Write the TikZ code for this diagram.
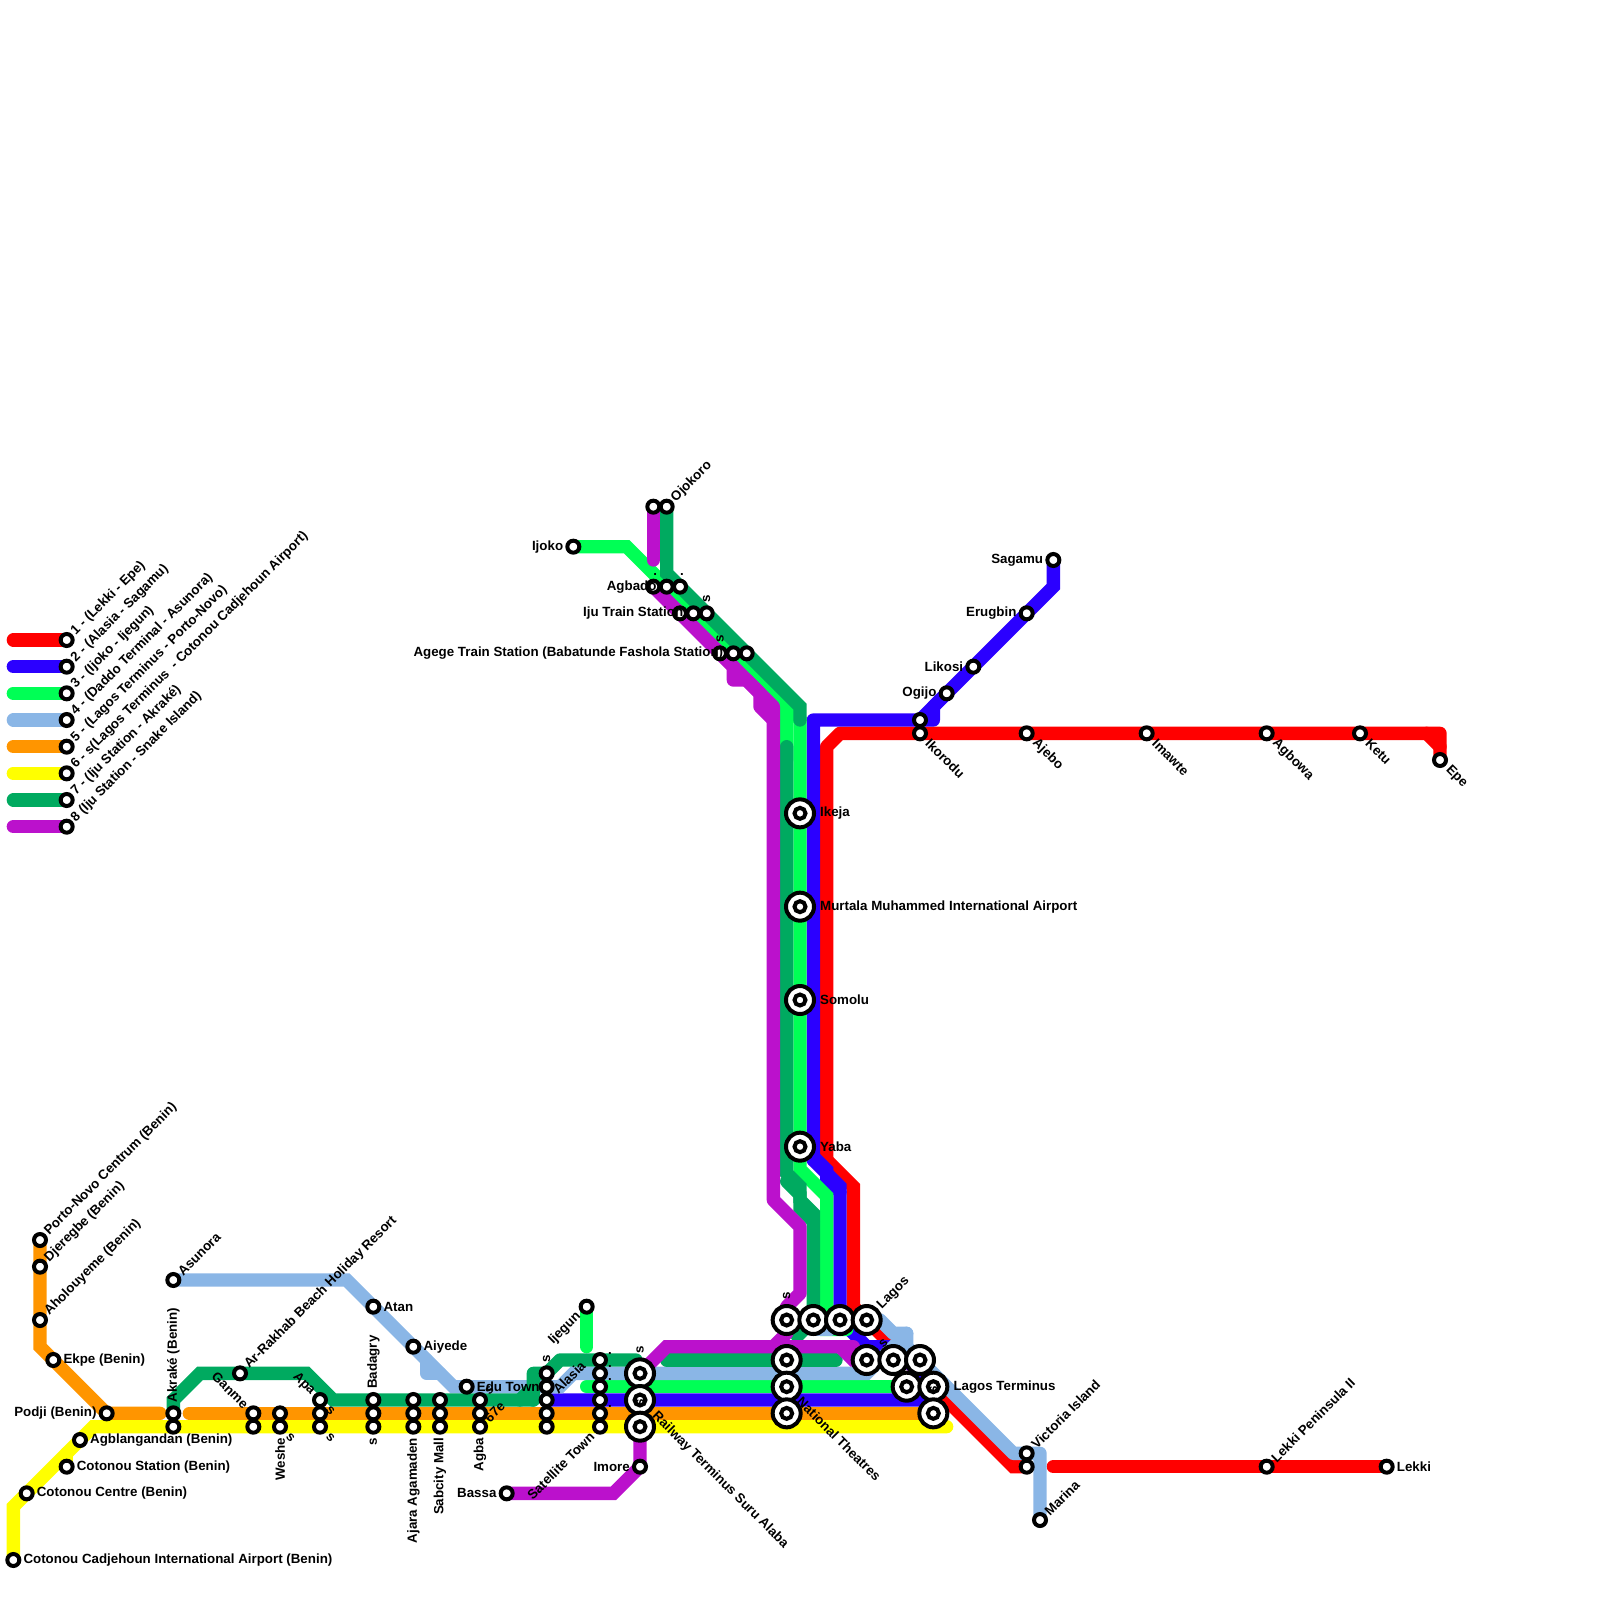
\documentclass[tikz,border=0pt]{standalone}
\usepackage{fontspec}
\setmainfont{Liberation Sans}
\pgfdeclarelayer{lines}
\pgfsetlayers{lines,main}
\definecolor{lred}{HTML}{FF0000}
\definecolor{lblue}{HTML}{2B00FF}
\definecolor{lgreen}{HTML}{00FF55}
\definecolor{lsky}{HTML}{8AB6E6}
\definecolor{lorange}{HTML}{FF9500}
\definecolor{lyellow}{HTML}{FFFF00}
\definecolor{ldark}{HTML}{00AA60}
\definecolor{lpurple}{HTML}{BB11CC}
\tikzset{
  metro/.style={line width=13.333pt,line cap=round,line join=miter,miter limit=10},
  soft/.style={line join=round},
  stn/.style={circle,draw=black,fill=white,line width=4pt,minimum size=12pt,inner sep=0pt},
  hub/.style={circle,draw=black,fill=white,line width=4pt,minimum size=28pt,inner sep=0pt},
  hubcore/.style={circle,draw=black,fill=white,line width=4pt,minimum size=11pt,inner sep=0pt},
  lbl/.style={font=\bfseries\fontsize{13.33}{15}\selectfont,inner sep=0pt,text=black},
}
\newcount\lbc
\newcommand\lb[4]{\global\advance\lbc by 1
  \node[lbl,#2] (t\the\lbc) at ([shift={(#3)}]#1.center) {#4};}
\newcommand\UR[3][9.5]{\lb{#2}{rotate=45,anchor=west}{45:#1pt}{#3}}
\newcommand\DR[3][11]{\lb{#2}{rotate=-45,anchor=west}{-45:#1pt}{#3}}
\newcommand\UL[3][10]{\lb{#2}{rotate=-45,anchor=east}{135:#1pt}{#3}}
\newcommand\DL[3][11]{\lb{#2}{rotate=45,anchor=east}{225:#1pt}{#3}}
\newcommand\RT[3][10]{\lb{#2}{anchor=west}{0:#1pt}{#3}}
\newcommand\LF[3][10]{\lb{#2}{anchor=east}{180:#1pt}{#3}}
\newcommand\UP[3][11]{\lb{#2}{rotate=90,anchor=west}{90:#1pt}{#3}}
\newcommand\DN[3][11]{\lb{#2}{rotate=90,anchor=east}{270:#1pt}{#3}}
\newcommand\DT[1]{\lb{#1}{}{10pt,7pt}{.}}
\begin{document}
\begin{tikzpicture}[x=13.3333pt,y=-13.3333pt]
\useasboundingbox (0,0) rectangle (120,120);
% stations
\foreach \a/\b in {5/48,5/50,5/52,5/54,5/56,5/58,5/60,5/62,
  3/93,3/95,3/99,4/102,8/106,6/108,5/110,2/112,1/117,
  13/96,13/106,13/107,18/103,19/106,19/107,21/106,21/107,24/105,24/106,24/107,
  28/98,31/101,35/104,28/105,28/106,28/107,31/105,31/106,31/107,33/105,33/106,33/107,
  36/105,36/106,36/107,38/112,44/98,
  41/103,41/104,41/105,41/106,41/107,45/102,45/103,45/104,45/105,45/106,45/107,48/110,
  49/38,50/38,43/41,49/44,50/44,51/44,51/46,52/46,53/46,54/49,55/49,56/49,
  69/54,69/55,71/52,73/50,77/46,79/42,77/55,86/55,95/55,102/55,108/57,
  77/109,77/110,78/114,95/110,104/110}
  {\node[stn] (s\a-\b) at (\a,\b) {};}
\foreach \a/\b in {60/61,60/68,60/75,60/86,59/99,61/99,63/99,65/99,65/102,67/102,69/102,
  68/104,70/104,70/106,59/102,59/104,59/106,48/103,48/105,48/107}
  {\node[hub] (s\a-\b) at (\a,\b) {};
   \node[hubcore] (c\a-\b) at (\a,\b) {};}
\coordinate (e1) at (1,48);\coordinate (e2) at (1,50);\coordinate (e3) at (1,52);\coordinate (e4) at (1,54);
\coordinate (e5) at (1,56);\coordinate (e6) at (1,58);\coordinate (e7) at (1,60);\coordinate (e8) at (1,62);
\begin{pgfonlayer}{lines}
% red
\draw[metro,lred] (e1)--(s5-48.center);
\draw[metro,lred,soft] (62,87)--(62,56)--(63,55)--(108,55)--(s108-57.center);
\draw[metro,lred] (107,55)--(108,56);
\draw[metro,lred] (62,87)--(64,89)--(64,98)--(s65-99.center)--(76,110)--(s77-110.center);
\draw[metro,lred] (79,110)--(s104-110.center);
% blue
\draw[metro,lblue] (e2)--(s5-50.center);
\draw[metro,lblue,soft] (61,87)--(61,54)--(s69-54.center)--(70,54)--(70,53)--(71,52);
\draw[metro,lblue] (s69-54.center)--(s71-52.center)--(79,44)--(s79-42.center);
\draw[metro,lblue] (61,87)--(63,89)--(s63-99.center)--(65,101)--(67,101)--(s70-104.center);
\draw[metro,lblue] (61,86.75)--(62,87.75)--(62,88.4)--(63,89.4);
\draw[metro,lblue] (41,105)--(69,105)--(s70-104.center);
% green
\draw[metro,lgreen] (e3)--(s5-52.center);
\draw[metro,lgreen] (s43-41.center)--(47,41)--(59,53)--(59,57);
\draw[metro,lgreen] (59,53)--(60,54)--(60,87.7)--(62,89.7)--(62,99.7)--(63.5,99.7);
\draw[metro,lgreen] (s44-98.center)--(44,101);
\draw[metro,lgreen] (44,104)--(s68-104.center);
% sky
\draw[metro,lsky] (e4)--(s5-54.center);
\draw[metro,lsky] (s13-96.center)--(26,96)--(34,104)--(42,104)--(43,103)--(65,103)--(68,100);
\draw[metro,lsky,soft] (32,102)--(32,103)--(33,103);
\draw[metro,lsky,soft] (s65-99.center)--(66,99)--(67,100)--(68,100)--(68,101)--(76,109)--(78,109)--(s78-114.center);
\draw[metro,lsky] (61.2,99.7)--(62.3,99.7);
% orange
\draw[metro,lorange] (e5)--(s5-56.center);
\draw[metro,lorange] (s3-93.center)--(3,101)--(s8-106.center)--(12,106);
\draw[metro,lorange] (14.2,106)--(s70-106.center);
% yellow
\draw[metro,lyellow] (e6)--(s5-58.center);
\draw[metro,lyellow] (s1-117.center)--(1,113)--(7,107)--(71,107);
\draw[metro,lyellow] (5,109)--(s5-110.center);
% dark green
\draw[metro,ldark] (e7)--(s5-60.center);
\draw[metro,ldark] (s13-106.center)--(13,105)--(15,103)--(23,103)--(25,105)--(40,105);
\draw[metro,ldark,soft] (40,105)--(40,103)--(41,103)--(42,102)--(47.7,102);
\draw[metro,ldark] (39,105)--(40,104);
\draw[metro,ldark] (50,102)--(62.7,102);
\draw[metro,ldark] (s50-38.center)--(50,43)--(60,53)--(60,54);
\draw[metro,ldark] (59,56)--(59,88)--(60,89)--(60,90)--(61,91)--(61,99)--(59.8,100.2);
\draw[metro,ldark] (59,88.6)--(60,89.6)--(60,90.6)--(61,91.6);
% purple
\draw[metro,lpurple] (e8)--(s5-62.center);
\draw[metro,lpurple] (s49-38.center)--(49,42);
\draw[metro,lpurple] (s38-112.center)--(46,112)--(48,110)--(48,103)--(50,101)--(64,101);
\draw[metro,lpurple] (63,101)--(64,102)--(s65-102.center);
\draw[metro,lpurple,soft] (s49-44.center)--(58,53)--(58,90)--(60,92)--(60,97)--(59,98)--(59,100)--(58,101);
\draw[metro,lpurple,soft] (54,49)--(55,50)--(55,51)--(56,51)--(57,52)--(57,53)--(58,54);
\end{pgfonlayer}
% legend labels
\UR{s5-48}{1 - (Lekki - Epe)}
\UR{s5-50}{2 - (Alasia - Sagamu)}
\UR{s5-52}{3 - (Ijoko - Ijegun)}
\UR{s5-54}{4 - (Daddo Terminal - Asunora)}
\UR{s5-56}{5 - (Lagos Terminus - Porto-Novo)}
\UR{s5-58}{6 - s(Lagos Terminus\ \ - Cotonou Cadjehoun Airport)}
\UR{s5-60}{7 - (Iju Station - Akraké)}
\UR{s5-62}{8 (Iju Station - Snake Island)}
% west
\UR{s3-93}{Porto-Novo Centrum (Benin)}
\UR{s3-95}{Djeregbe (Benin)}
\UR{s3-99}{Aholouyeme (Benin)}
\RT{s4-102}{Ekpe (Benin)}
\LF{s8-106}{Podji (Benin)}
\RT{s6-108}{Agblangandan (Benin)}
\RT{s5-110}{Cotonou Station (Benin)}
\RT{s2-112}{Cotonou Centre (Benin)}
\RT{s1-117}{Cotonou Cadjehoun International Airport (Benin)}
\UR{s13-96}{Asunora}
\UP{s13-106}{Akraké (Benin)}
\UR{s18-103}{Ar-Rakhab Beach Holiday Resort}
\UL{s19-106}{Ganme}
\DN{s21-107}{Weshe}
\DR{s21-107}{s}
\UL{s24-105}{Apa}
\DR{s24-105}{s}
\DR{s24-107}{s}
% centre-south
\RT{s28-98}{Atan}
\RT{s31-101}{Aiyede}
\RT{s35-104}{Edu Town}
\UP{s28-105}{Badagry}
\DN{s28-107}{s}
\DN{s31-107}{Ajara Agamaden}
\DN{s33-107}{Sabcity Mall}
\DN{s36-107}{Agba}
\UR{s36-107}{67e}
\UR{s36-105}{s}
\LF{s38-112}{Bassa}
\DL{s45-107}{Satellite Town}
\DL{s44-98}{Ijegun}
\UR[12]{s41-105}{Alasia}
\UP{s41-103}{s}
\DT{s45-102}\DT{s45-103}\DT{s45-104}\DT{s45-106}
\UP[20]{s48-103}{s}
\UP[20]{s48-107}{s}
\DR[20]{s48-105}{Railway Terminus Suru Alaba}
\LF{s48-110}{Imore}
% north
\UR{s50-38}{Ojokoro}
\LF{s43-41}{Ijoko}
\LF{s50-44}{Agbado}
\LF{s52-46}{Iju Train Station}
\LF{s55-49}{Agege Train Station (Babatunde Fashola Station)}
\UP{s53-46}{s}
\UP{s54-49}{s}
\lb{s49-44}{}{2pt,12pt}{.}
\lb{s51-44}{}{2pt,12pt}{.}
% trunk
\RT[20]{s60-61}{Ikeja}
\RT[20]{s60-68}{Murtala Muhammed International Airport}
\RT[20]{s60-75}{Somolu}
\RT[20]{s60-86}{Yaba}
\UP[20]{s59-99}{s}
\UR[18]{s65-99}{Lagos}
\UR[20]{s65-102}{s}
\DR[18]{s59-104}{National Theatres}
\RT[20]{s70-104}{Lagos Terminus}
\UP[20]{s70-106}{s}
% east
\DR{s69-55}{Ikorodu}
\DR{s77-55}{Ajebo}
\DR{s86-55}{Imawte}
\DR{s95-55}{Agbowa}
\DR{s102-55}{Ketu}
\DR{s108-57}{Epe}
\LF{s71-52}{Ogijo}
\LF{s73-50}{Likosi}
\LF{s77-46}{Erugbin}
\LF{s79-42}{Sagamu}
\UR{s77-109}{Victoria Island}
\UR{s78-114}{Marina}
\UR{s95-110}{Lekki Peninsula II}
\RT{s104-110}{Lekki}
\end{tikzpicture}
\end{document}
